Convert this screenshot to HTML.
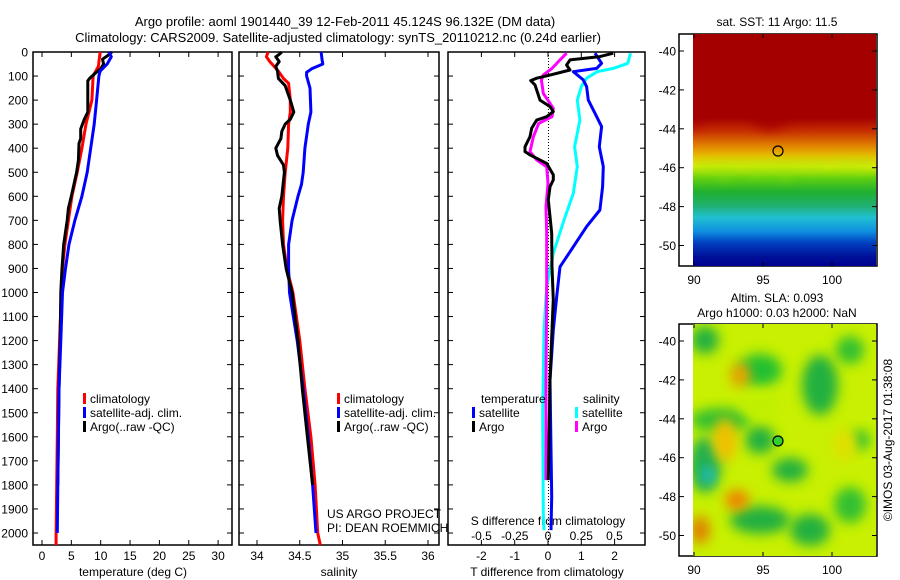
<!DOCTYPE html>
<html><head><meta charset="utf-8">
<style>
body{margin:0;background:#fff;}
svg{display:block;font-family:"Liberation Sans",sans-serif;font-size:12px;}
</style></head>
<body>
<svg id="chart" width="900" height="580" viewBox="0 0 900 580" xmlns="http://www.w3.org/2000/svg">
<defs>
<linearGradient id="sstGrad" x1="0" y1="0" x2="0" y2="1">
<stop offset="0" stop-color="#a40000"/><stop offset="0.36" stop-color="#a40000"/>
<stop offset="0.42" stop-color="#c83000"/><stop offset="0.48" stop-color="#e08000"/>
<stop offset="0.53" stop-color="#f0c000"/><stop offset="0.57" stop-color="#e8f000"/>
<stop offset="0.62" stop-color="#60d010"/><stop offset="0.68" stop-color="#20b030"/>
<stop offset="0.74" stop-color="#20b070"/><stop offset="0.79" stop-color="#20c0d0"/>
<stop offset="0.85" stop-color="#1090e0"/><stop offset="0.9" stop-color="#0040c0"/>
<stop offset="0.96" stop-color="#001098"/><stop offset="1" stop-color="#000090"/>
</linearGradient>
<filter id="blur" x="-50%" y="-50%" width="200%" height="200%"><feGaussianBlur stdDeviation="6"/></filter>
<clipPath id="clip2"><rect x="693" y="324" width="183" height="232"/></clipPath>
<clipPath id="clip1"><rect x="693" y="34" width="183" height="232"/></clipPath>
</defs>
<text x="345" y="26" text-anchor="middle" font-size="13">Argo profile: aoml 1901440_39 12-Feb-2011 45.124S 96.132E (DM data)</text>
<text x="338" y="42" text-anchor="middle" font-size="13">Climatology: CARS2009. Satellite-adjusted climatology: synTS_20110212.nc (0.24d earlier)</text>
<g id="g"></g>
</svg>
<script>
// ---- temperature profiles ----
const climTDepth=[0,60,100,200,300,400,500,600,700,800,900,1000,1200,1400,1600,1800,2000,2050];
const climT=[9.9,9.6,8.7,8.5,7.5,6.8,6.0,5.1,4.5,3.9,3.5,3.3,3.0,2.7,2.6,2.5,2.4,2.4];
const satTDepth=[0,20,50,80,100,200,300,400,500,600,700,800,900,1000,1200,1400,1600,1800,2000];
const satT=[11.4,11.8,11.1,9.9,9.7,9.3,8.9,8.3,7.7,6.8,5.6,4.6,4.0,3.5,3.2,2.9,2.8,2.7,2.6];
const argoTDepth=[0,15,30,50,70,90,110,120,250,280,320,360,380,450,500,600,650,700,800,900,1000,1200,1400,1600,1800];
const argoT=[11.9,11.2,10.3,10.5,10.0,9.0,8.1,7.8,7.8,7.2,6.6,6.6,6.3,6.2,5.9,5.0,4.5,4.3,3.7,3.4,3.2,3.1,2.9,2.8,2.7];
// ---- salinity profiles ----
const climSDepth=[0,20,40,60,80,110,130,200,250,300,400,500,600,700,800,900,1000,1200,1400,1600,1800,2000,2050];
const climS=[34.13,34.11,34.15,34.2,34.25,34.31,34.37,34.39,34.39,34.37,34.36,34.33,34.31,34.30,34.31,34.35,34.42,34.5,34.56,34.63,34.68,34.71,34.74];
const satSDepth=[0,30,50,70,85,100,150,250,300,400,500,550,600,700,800,900,1000,1200,1400,1600,1800,2000];
const satS=[34.75,34.76,34.77,34.64,34.58,34.58,34.62,34.63,34.6,34.56,34.54,34.52,34.48,34.41,34.37,34.37,34.38,34.47,34.54,34.6,34.65,34.69];
const argoSDepth=[0,10,20,40,60,80,110,140,200,250,280,300,330,360,400,430,470,500,600,650,700,800,900,1000,1200,1400,1600,1800];
const argoS=[34.29,34.26,34.22,34.26,34.22,34.24,34.25,34.33,34.39,34.43,34.39,34.33,34.29,34.28,34.22,34.24,34.31,34.32,34.29,34.26,34.27,34.30,34.34,34.41,34.48,34.53,34.59,34.65];
// ---- differences from climatology ----
const dTArgoDepth=[5,19,33,54,75,96,109,119,137,200,227,248,269,283,317,352,394,414,428,442,463,511,532,560,615,754,893,1031,1085,1364,1780];
const dTArgo=[1.96,1.56,0.66,0.56,0.66,0.06,-0.34,-0.52,-0.39,-0.24,0.06,0.16,-0.04,-0.34,-0.49,-0.54,-0.69,-0.69,-0.54,-0.34,-0.04,0.16,0.16,0.06,0.01,0.11,0.12,0.16,0.14,0.06,0.01];
const dTSatDepth=[5,47,68,82,116,144,200,255,310,394,477,560,657,726,810,893,1017,1156,1364,1849,1988];
const dTSat=[1.41,1.61,1.46,0.76,1.06,1.16,1.21,1.41,1.61,1.54,1.66,1.64,1.56,1.16,0.76,0.36,0.26,0.16,0.06,0.11,0.09];
const dSSatDepth=[5,47,68,82,109,144,200,283,394,477,588,699,837,976,1017,1156,1503,1918,1988];
const dSSat=[0.62,0.60,0.49,0.37,0.29,0.25,0.22,0.24,0.20,0.22,0.19,0.12,0.04,-0.01,-0.015,-0.03,-0.04,-0.035,-0.03];
const dSArgoDepth=[5,33,68,96,116,172,234,269,297,352,414,449,477,546,643,754,893,1017,1364,1780];
const dSArgo=[0.14,0.09,0.03,-0.035,-0.05,-0.035,0.04,0.03,-0.07,-0.11,-0.135,-0.085,-0.01,0.0,-0.015,-0.01,-0.01,-0.01,-0.015,-0.015];
// ---- tick labels ----
const depthTicks=[0,100,200,300,400,500,600,700,800,900,1000,1100,1200,1300,1400,1500,1600,1700,1800,1900,2000];
const tempTicks=[0,5,10,15,20,25,30];
const salTicks=["34","34.5","35","35.5","36"];
const dTTicks=[-2,-1,0,1,2];
const dSTicks=["-0.5","-0.25","0","0.25","0.5"];
const latTicks=[-40,-42,-44,-46,-48,-50];
const lonTicks=[90,95,100];

const NS="http://www.w3.org/2000/svg";
const G=document.getElementById('g');
function mk(tag,attrs,parent){const e=document.createElementNS(NS,tag);for(const k in attrs)e.setAttribute(k,attrs[k]);(parent||G).appendChild(e);return e;}
const yD=d=>52+d*0.2405;
const xT=t=>42+t*5.87;
const xS=s=>257+(parseFloat(s)-34)*85.5;
const xDT=v=>548+v*33.3;
const xDS=v=>548+parseFloat(v)*133;
const P1={l:33,r:232},P2={l:239,r:439},P3={l:448,r:645};
const TOP=52,BOT=545;

function frame(p,name){
  const r=mk('rect',{x:p.l,y:TOP,width:p.r-p.l,height:BOT-TOP,fill:'none',stroke:'#000','stroke-width':1.5});
  
  
  depthTicks.forEach(d=>{
    mk('line',{x1:p.l,x2:p.l+5,y1:yD(d),y2:yD(d),stroke:'#000'});
    mk('line',{x1:p.r-5,x2:p.r,y1:yD(d),y2:yD(d),stroke:'#000'});
  });
}
frame(P1,'temperature-panel');frame(P2,'salinity-panel');frame(P3,'difference-panel');
depthTicks.forEach(d=>{
  const t=mk('text',{x:28,y:yD(d)+4.5,'text-anchor':'end'});t.textContent=d;
  
  
});
function xticks(vals,fx,y,name,top){
  vals.forEach(v=>{
    const x=fx(v);
    if(top){mk('line',{x1:x,x2:x,y1:TOP,y2:TOP+5,stroke:'#000'});mk('line',{x1:x,x2:x,y1:BOT-5,y2:BOT,stroke:'#000'});}
    const t=mk('text',{x:x,y:y,'text-anchor':'middle'});t.textContent=v;
    
    
  });
}
xticks(tempTicks,xT,560,'temperature-tick-label',true);
xticks(salTicks,xS,560,'salinity-tick-label',true);
xticks(dTTicks,xDT,560,'t-diff-tick-label',true);
xticks(dSTicks,xDS,540,'s-diff-tick-label',false);
function label(txt,x,y,name,anchor){const t=mk('text',{x:x,y:y,'text-anchor':anchor||'middle'});t.textContent=txt;return t;}
label('temperature (deg C)',133,576,'temperature-axis-title');
label('salinity',339,576,'salinity-axis-title');
label('T difference from climatology',547,576,'t-diff-axis-title');
label('S difference from climatology',548,525,'s-diff-axis-title');
label('US ARGO PROJECT',327,518,'project-label','start');
label('PI: DEAN ROEMMICH',327,532,'pi-label','start');
mk('line',{x1:548.5,x2:548.5,y1:TOP,y2:BOT,stroke:'#000','stroke-dasharray':'1,2'});

function series(dep,val,fx,color,name,w){
  const pts=dep.map((d,i)=>fx(val[i]).toFixed(1)+','+yD(d).toFixed(1)).join(' ');
  const p=mk('polyline',{points:pts,fill:'none',stroke:color,'stroke-width':w||3,'stroke-linejoin':'round'});
  
  
}
series(climTDepth,climT,xT,'#ff0000','temperature-climatology-line');
series(argoTDepth,argoT,xT,'#000000','temperature-argo-line');
series(satTDepth,satT,xT,'#0000ff','temperature-satellite-line');
series(climSDepth,climS,xS,'#ff0000','salinity-climatology-line');
series(satSDepth,satS,xS,'#0000ff','salinity-satellite-line');
series(argoSDepth,argoS,xS,'#000000','salinity-argo-line');
series(dSSatDepth,dSSat,xDS,'#00ffff','s-diff-satellite-line');
series(dSArgoDepth,dSArgo,xDS,'#ff00ff','s-diff-argo-line');
series(dTSatDepth,dTSat,xDT,'#0000ff','t-diff-satellite-line');
series(dTArgoDepth,dTArgo,xDT,'#000000','t-diff-argo-line');

function legend(x,y,color,txt,name){
  mk('rect',{x:x,y:y-10,width:3,height:11,fill:color});
  const t=mk('text',{x:x+7,y:y});t.textContent=txt;
  
  
}
legend(83,403,'#ff0000','climatology','legend-temp-climatology');
legend(83,417,'#0000ff','satellite-adj. clim.','legend-temp-satellite');
legend(83,431,'#000000','Argo(..raw -QC)','legend-temp-argo');
legend(337,403,'#ff0000','climatology','legend-sal-climatology');
legend(337,417,'#0000ff','satellite-adj. clim.','legend-sal-satellite');
legend(337,431,'#000000','Argo(..raw -QC)','legend-sal-argo');
label('temperature',481,403,'legend-temperature-heading','start');
label('salinity',583,403,'legend-salinity-heading','start');
legend(472,417,'#0000ff','satellite','legend-tdiff-satellite');
legend(472,431,'#000000','Argo','legend-tdiff-argo');
legend(575,417,'#00ffff','satellite','legend-sdiff-satellite');
legend(575,431,'#ff00ff','Argo','legend-sdiff-argo');

// ---- maps ----
function mapFrame(top,name){
  mk('rect',{x:679,y:top,width:198,height:232,fill:'#fff',stroke:'none'});
  const f=mk('rect',{x:679,y:top,width:198,height:232,fill:'none',stroke:'#000','stroke-width':1.5});
  
  
}
mapFrame(34,'sst-map');
const m1=mk('rect',{x:693,y:34,width:183,height:232,fill:'url(#sstGrad)','clip-path':'url(#clip1)'});


const g1=mk('g',{'clip-path':'url(#clip1)'});
mk('path',{d:'M693,130 L705,118 L712,112 L722,114 L735,108 L745,112 L752,120 L760,126 L770,130 L780,126 L790,120 L800,114 L810,120 L822,112 L835,118 L845,110 L858,118 L868,100 L876,92 L876,34 L693,34Z',fill:'#a40000',filter:'url(#blur)'},g1);
mk('path',{d:'M693,178 L710,172 L725,182 L740,170 L755,180 L770,172 L785,182 L800,170 L815,176 L830,168 L845,175 L860,170 L876,172 L876,158 L693,160Z',fill:'#90e010',opacity:0.5,filter:'url(#blur)'},g1);
mapFrame(324,'sla-map');
const g2=mk('g',{'clip-path':'url(#clip2)'});
const m2=mk('rect',{x:693,y:324,width:183,height:232,fill:'#c8f000'},g2);


[[705,340,14,14,'#20b040'],[760,370,22,16,'#20c030'],[820,385,18,30,'#20b040'],[850,350,14,14,'#30c030'],[720,420,30,12,'#30c030'],[760,440,15,14,'#20b040'],[790,470,18,12,'#20b040'],[705,465,16,28,'#20b050'],[708,475,6,8,'#20c0e0'],[760,520,30,14,'#20b040'],[810,530,20,16,'#20b040'],[850,505,16,18,'#30c030'],[860,440,10,10,'#30c030'],[740,375,10,12,'#f0a000'],[725,440,12,22,'#f0c000'],[737,500,12,10,'#f08000'],[700,530,10,14,'#e08000'],[845,445,12,16,'#e0e000'],[760,405,20,12,'#c0f000']].forEach(b=>{
  mk('ellipse',{cx:b[0],cy:b[1],rx:b[2],ry:b[3],fill:b[4],filter:'url(#blur)'},g2);
});
function mapAxes(top,latY0,name){
  latTicks.forEach(v=>{
    const y=latY0+(-40-v)*19.45;
    mk('line',{x1:679,x2:684,y1:y,y2:y,stroke:'#000'});mk('line',{x1:872,x2:877,y1:y,y2:y,stroke:'#000'});
    const t=mk('text',{x:676,y:y+4.5,'text-anchor':'end'});t.textContent=v;
    
    
  });
  lonTicks.forEach(v=>{
    const x=694+(v-90)*13.8;
    mk('line',{x1:x,x2:x,y1:top,y2:top+4,stroke:'#000'});mk('line',{x1:x,x2:x,y1:top+228,y2:top+232,stroke:'#000'});
    const t=mk('text',{x:x,y:top+250,'text-anchor':'middle'});t.textContent=v;
    
    
  });
}
mapAxes(34,51,'sst-map');
mapAxes(324,341,'sla-map');
const c1=mk('circle',{cx:778,cy:151,r:5,fill:'none',stroke:'#000','stroke-width':1.2});


const c2=mk('circle',{cx:778,cy:441,r:5,fill:'#30d030',stroke:'#000','stroke-width':1.2});


label('sat. SST: 11 Argo: 11.5',777,26,'sst-map-title');
label('Altim. SLA: 0.093',777,302,'sla-map-title-1');
label('Argo h1000: 0.03 h2000: NaN',777,317,'sla-map-title-2');
const cr=mk('text',{x:0,y:0,'text-anchor':'middle',transform:'translate(892,440) rotate(-90)'});
cr.textContent='©IMOS 03-Aug-2017 01:38:08';


</script>
</body></html>
